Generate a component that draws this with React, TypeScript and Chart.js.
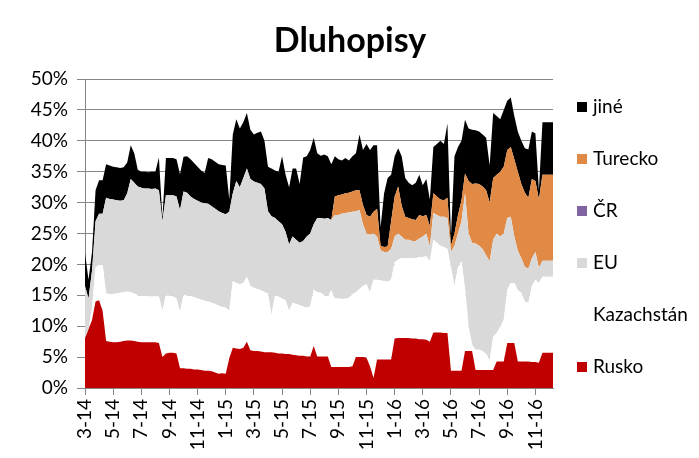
import React, { useEffect, useRef } from "react";
import { Chart, registerables } from "chart.js";

Chart.register(...registerables);

const months = [
  "3-14", "4-14", "5-14", "6-14", "7-14", "8-14", "9-14", "10-14", "11-14", "12-14",
  "1-15", "2-15", "3-15", "4-15", "5-15", "6-15", "7-15", "8-15", "9-15", "10-15", "11-15", "12-15",
  "1-16", "2-16", "3-16", "4-16", "5-16", "6-16", "7-16", "8-16", "9-16", "10-16", "11-16", "12-16",
];

const rusko = [
  8.0, 9.5, 11.0, 14.0, 14.2, 12.5, 7.6, 7.5, 7.4, 7.4, 7.5, 7.6, 7.7, 7.7, 7.6, 7.5,
  7.4, 7.4, 7.4, 7.4, 7.4, 7.3, 5.0, 5.6, 5.7, 5.7, 5.6, 3.2, 3.2, 3.1, 3.1, 3.0,
  3.0, 2.9, 2.8, 2.8, 2.7, 2.5, 2.3, 2.4, 2.3, 4.8, 6.5, 6.4, 6.3, 6.5, 7.5, 6.1,
  6.0, 6.0, 5.9, 5.8, 5.8, 5.8, 5.7, 5.6, 5.6, 5.5, 5.5, 5.4, 5.3, 5.2, 5.2, 5.1,
  5.1, 6.8, 5.1, 5.1, 5.1, 5.1, 3.4, 3.4, 3.4, 3.4, 3.4, 3.4, 3.5, 5.0, 5.0, 5.0,
  4.9, 3.5, 1.6, 4.6, 4.6, 4.6, 4.6, 4.6, 8.0, 8.1, 8.1, 8.1, 8.1, 8.0, 8.0, 7.9,
  7.9, 7.8, 7.5, 9.0, 9.0, 9.0, 8.9, 8.9, 2.8, 2.8, 2.8, 2.8, 6.0, 6.0, 6.0, 2.9,
  2.9, 2.9, 2.9, 2.9, 2.9, 4.3, 4.3, 4.3, 7.3, 7.3, 7.3, 4.3, 4.3, 4.3, 4.3, 4.2,
  4.2, 4.1, 5.7, 5.7, 5.7, 5.7,
];

const kazachstan = [
  0.0, 0.0, 2.0, 5.5, 5.8, 7.5, 7.7, 7.7, 7.8, 7.9, 7.9, 7.9, 7.9, 7.8, 7.7, 7.5,
  7.5, 7.5, 7.4, 7.4, 7.4, 7.5, 7.5, 9.4, 9.3, 9.1, 8.9, 9.1, 11.9, 11.9, 11.8, 11.7,
  11.5, 11.4, 11.3, 11.2, 11.1, 11.1, 11.0, 10.7, 10.7, 7.7, 10.8, 10.6, 10.5, 10.5, 10.5, 10.4,
  10.2, 10.0, 9.9, 9.7, 9.5, 6.0, 9.3, 9.2, 8.9, 8.7, 7.0, 8.4, 8.3, 8.2, 8.0, 7.9,
  8.1, 9.1, 10.4, 10.3, 9.9, 9.7, 12.4, 11.1, 11.1, 11.0, 11.1, 11.2, 11.7, 10.5, 11.0, 11.5,
  11.9, 12.0, 15.9, 12.9, 12.8, 12.7, 12.6, 12.9, 12.3, 12.7, 12.9, 12.9, 12.9, 13.0, 13.0, 13.3,
  13.3, 13.5, 13.0, 15.0, 14.5, 14.0, 13.9, 13.6, 16.7, 13.7, 16.7, 17.7, 10.0, 4.0, 1.0, 3.3,
  3.3, 3.1, 2.6, 1.6, 5.4, 4.6, 5.6, 6.7, 8.6, 9.7, 9.7, 11.5, 11.1, 9.7, 9.5, 12.3,
  13.3, 12.9, 12.3, 12.3, 12.3, 12.3,
];

const eu = [
  8.5, 5.0, 6.0, 7.5, 8.2, 8.2, 15.5, 15.4, 15.3, 15.1, 14.9, 14.9, 15.9, 18.3, 17.9, 17.6,
  17.5, 17.4, 17.5, 17.4, 17.5, 17.2, 14.5, 16.2, 16.2, 16.4, 16.5, 16.5, 16.7, 16.6, 16.1, 15.9,
  15.8, 15.7, 15.8, 15.8, 15.6, 15.4, 15.3, 15.2, 15.1, 16.0, 14.2, 16.5, 15.7, 17.0, 17.5, 17.3,
  17.2, 17.2, 17.2, 16.8, 13.3, 16.0, 12.5, 12.2, 12.0, 11.1, 10.7, 10.7, 10.4, 10.1, 10.6, 11.5,
  11.8, 10.6, 12.0, 12.1, 12.4, 12.7, 11.4, 13.5, 13.5, 13.8, 13.8, 13.8, 13.3, 13.1, 12.8, 10.0,
  8.2, 9.3, 7.5, 7.0, 4.9, 4.7, 4.8, 5.0, 4.2, 4.2, 3.5, 3.0, 3.0, 2.8, 2.8, 3.0,
  3.3, 3.7, 2.4, 4.3, 4.5, 4.7, 4.9, 5.0, 2.5, 6.5, 5.5, 6.5, 15.5, 15.0, 16.5, 17.2,
  16.8, 16.5, 16.0, 16.0, 15.7, 16.1, 14.6, 14.0, 11.6, 10.7, 7.5, 6.4, 5.6, 5.6, 5.5, 4.5,
  4.5, 2.5, 2.6, 2.6, 2.6, 2.6,
];

const cr = [
  0, 0, 0, 0, 0, 0, 0, 0, 0, 0, 0, 0, 0, 0, 0, 0,
  0, 0, 0, 0, 0, 0, 0, 0, 0, 0, 0, 0, 0, 0, 0, 0,
  0, 0, 0, 0, 0, 0, 0, 0, 0, 0, 0, 0, 0, 0, 0, 0,
  0, 0, 0, 0, 0, 0, 0, 0, 0, 0, 0, 0, 0, 0, 0, 0,
  0, 0, 0, 0, 0, 0, 0, 0, 0, 0, 0, 0, 0, 0, 0, 0,
  0, 0, 0, 0, 0, 0, 0, 0, 0, 0, 0, 0, 0, 0, 0, 0,
  0, 0, 0, 0, 0, 0, 0, 0, 0, 0, 0, 0, 0, 0, 0, 0,
  0, 0, 0, 0, 0, 0, 0, 0, 0, 0, 0, 0, 0, 0, 0, 0,
  0, 0, 0, 0, 0, 0,
];

const turecko = [
  0, 0, 0, 0, 0, 0, 0, 0, 0, 0, 0, 0, 0, 0, 0, 0,
  0, 0, 0, 0, 0, 0, 0, 0, 0, 0, 0, 0, 0, 0, 0, 0,
  0, 0, 0, 0, 0, 0, 0, 0, 0, 0, 0, 0, 0, 0, 0, 0,
  0, 0, 0, 0, 0, 0, 0, 0, 0, 0, 0, 0, 0, 0, 0, 0,
  0, 0, 0, 0, 0, 0, 0, 3.0, 3.2, 3.1, 3.2, 3.2, 3.3, 3.4, 3.2, 3.1,
  3.0, 2.9, 3.5, 4.5, 0.7, 0.8, 0.9, 4.5, 6.5, 7.6, 5.0, 3.7, 3.5, 3.5, 3.4, 3.8,
  3.3, 3.0, 3.3, 3.2, 3.0, 2.8, 2.7, 3.3, 1.0, 2.0, 3.0, 3.4, 3.2, 8.5, 9.5, 9.7,
  10.0, 10.1, 10.5, 9.5, 10.0, 9.5, 10.5, 10.8, 11.0, 11.3, 12.5, 12.8, 12.0, 12.0, 11.5, 12.8,
  11.5, 11.0, 13.9, 13.9, 13.9, 13.9,
];

const jine = [
  5.3, 3.0, 3.0, 5.0, 5.4, 5.4, 5.4, 5.4, 5.3, 5.3, 5.3, 5.3, 5.0, 5.5, 4.8, 2.7,
  2.6, 2.7, 2.6, 2.8, 2.7, 5.3, 0.5, 6.0, 6.0, 6.0, 6.0, 5.8, 5.6, 5.9, 6.0, 5.8,
  5.5, 5.2, 4.9, 7.4, 7.6, 7.6, 7.6, 7.8, 7.9, 2.0, 9.5, 10.0, 9.5, 9.0, 9.0, 8.0,
  7.6, 8.1, 8.5, 7.7, 7.2, 7.7, 7.7, 8.0, 11.0, 9.2, 9.3, 11.0, 11.5, 9.5, 13.5, 13.0,
  13.5, 14.0, 10.5, 10.1, 10.4, 10.0, 9.0, 6.5, 5.8, 5.5, 5.7, 5.2, 5.7, 6.0, 9.0, 8.9,
  11.5, 10.8, 10.8, 10.3, 3.0, 8.7, 11.1, 7.5, 6.5, 6.2, 8.0, 6.3, 5.7, 5.5, 6.0, 6.5,
  5.0, 5.8, 4.3, 7.5, 8.5, 9.5, 9.1, 12.0, 1.5, 12.5, 11.0, 9.6, 8.7, 8.5, 8.8, 8.6,
  8.5, 8.4, 8.5, 6.0, 10.5, 9.5, 8.5, 9.2, 8.0, 8.0, 7.0, 6.5, 7.0, 7.2, 7.8, 7.7,
  7.7, 1.5, 8.5, 8.5, 8.5, 8.5,
];

const weeks = rusko.map((_, i) => i);

const FONT = "Lato, 'Open Sans', sans-serif";
const GRID = "#868686";

const series = [
  { label: "Rusko", data: rusko, color: "#C00000" },
  { label: "Kazachstán", data: kazachstan, color: "#FFFFFF" },
  { label: "EU", data: eu, color: "#D9D9D9" },
  { label: "ČR", data: cr, color: "#8064A2" },
  { label: "Turecko", data: turecko, color: "#E08A45" },
  { label: "jiné", data: jine, color: "#000000" },
];

const decorPlugin = {
  id: "decor",
  afterDraw(chart: any) {
    const ctx = chart.ctx;
    ctx.save();
    ctx.fillStyle = "#000";
    ctx.font = `bold 34px ${FONT}`;
    ctx.textAlign = "center";
    ctx.textBaseline = "alphabetic";
    ctx.fillText("Dluhopisy", 350, 52);

    const items = [...series].reverse();
    ctx.font = `19px ${FONT}`;
    ctx.textAlign = "left";
    ctx.textBaseline = "middle";
    items.forEach((s, i) => {
      const y = 107 + i * 52;
      ctx.fillStyle = s.color;
      ctx.fillRect(577, y - 5, 10, 10);
      ctx.fillStyle = "#000";
      ctx.fillText(s.label, 593, y);
    });
    ctx.restore();
  },
};

export default function App() {
  const ref = useRef<HTMLCanvasElement | null>(null);

  useEffect(() => {
    document.body.style.margin = "0";
    const canvas = ref.current;
    if (!canvas) return;
    const chart = new Chart(canvas, {
      type: "line",
      data: {
        labels: weeks,
        datasets: series.map((s, i) => ({
          label: s.label,
          data: s.data,
          backgroundColor: s.color,
          borderColor: s.color,
          borderWidth: 0,
          pointRadius: 0,
          tension: 0,
          fill: i === 0 ? "origin" : "-1",
        })),
      },
      options: {
        animation: false,
        responsive: true,
        maintainAspectRatio: false,
        layout: { padding: { left: 8, right: 146, top: 79, bottom: 0 } },
        plugins: {
          legend: { display: false },
          title: { display: false },
          tooltip: { enabled: false },
        },
        scales: {
          x: {
            type: "linear",
            min: 0,
            max: weeks.length - 1,
            afterFit: (scale: any) => {
              scale.height = 70;
            },
            grid: {
              drawOnChartArea: false,
              drawTicks: true,
              tickLength: 7,
              color: GRID,
            },
            border: { color: GRID },
            ticks: {
              stepSize: 8,
              includeBounds: false,
              autoSkip: false,
              minRotation: 90,
              maxRotation: 90,
              padding: 4,
              color: "#000",
              font: { family: FONT, size: 19 },
              callback: (v: any) => {
                const idx = Number(v) / 4;
                return Number.isInteger(idx) ? months[idx] : null;
              },
            },
          },
          y: {
            stacked: true,
            min: 0,
            max: 50,
            afterFit: (scale: any) => {
              scale.width = 77;
            },
            grid: {
              color: GRID,
              tickLength: 8,
            },
            border: { color: GRID },
            ticks: {
              stepSize: 5,
              padding: 9,
              color: "#000",
              font: { family: FONT, size: 19 },
              callback: (v: any) => `${v}%`,
            },
          },
        },
      },
      plugins: [decorPlugin],
    });
    return () => chart.destroy();
  }, []);

  return (
    <div style={{ width: 699, height: 458, position: "relative", background: "#fff" }}>
      <canvas ref={ref} />
    </div>
  );
}
